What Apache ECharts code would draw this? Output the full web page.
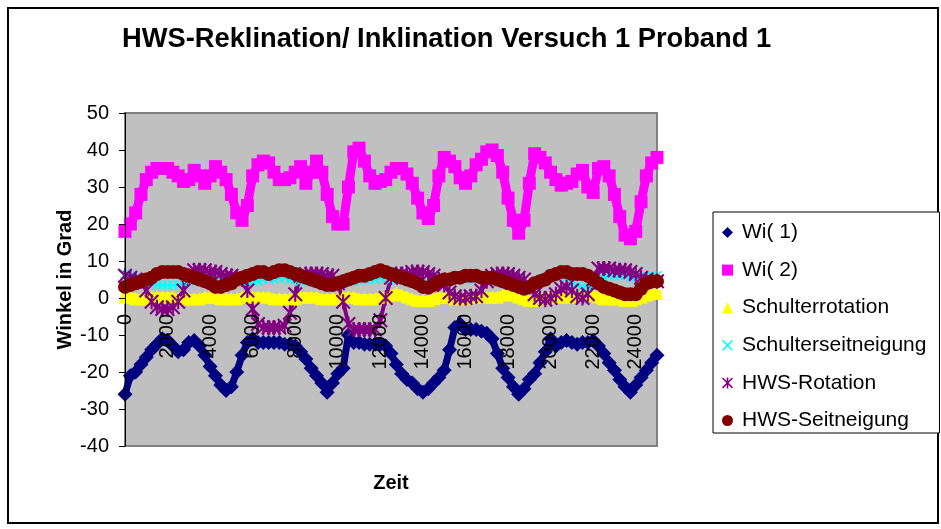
<!DOCTYPE html>
<html>
<head>
<meta charset="utf-8">
<script src="https://cdn.jsdelivr.net/npm/echarts@6/dist/echarts.min.js"></script>
<style>
html,body{margin:0;padding:0;background:#fff;}
#chart{width:941px;height:529px;}
</style>
</head>
<body>
<div id="chart"></div>
<script>
// Time axis (Zeit)
var zeit = [
  0, 250, 500, 750, 1000, 1250, 1500, 1750, 2000, 2250,
  2500, 2750, 3000, 3250, 3500, 3750, 4000, 4250, 4500, 4750,
  5000, 5250, 5500, 5750, 6000, 6250, 6500, 6750, 7000, 7250,
  7500, 7750, 8000, 8250, 8500, 8750, 9000, 9250, 9500, 9750,
  10000, 10250, 10500, 10750, 11000, 11250, 11500, 11750, 12000, 12250,
  12500, 12750, 13000, 13250, 13500, 13750, 14000, 14250, 14500, 14750,
  15000, 15250, 15500, 15750, 16000, 16250, 16500, 16750, 17000, 17250,
  17500, 17750, 18000, 18250, 18500, 18750, 19000, 19250, 19500, 19750,
  20000, 20250, 20500, 20750, 21000, 21250, 21500, 21750, 22000, 22250,
  22500, 22750, 23000, 23250, 23500, 23750, 24000, 24250, 24500, 24750,
  25000
];

var wi1 = [
  -26, -21, -20, -18, -16, -14, -12.5, -11, -11.5, -13,
  -14.5, -14, -12, -11.5, -13, -15.5, -18.5, -21, -23.5, -25,
  -24, -20, -15.5, -12, -11, -12, -12, -12, -12, -12,
  -12.5, -12.5, -13, -14.5, -16.5, -19, -21, -23, -25.5, -23,
  -20.5, -19, -10, -12, -12, -12.5, -12.5, -12.5, -12.5, -13,
  -15, -18, -20.5, -22, -23, -24.5, -25.5, -24.5, -23, -21.5,
  -19.5, -14, -8, -7, -8.5, -8.5, -8.5, -9, -9.5, -11,
  -15, -19, -21.5, -24, -26, -24.5, -22, -20.5, -17.5, -14.5,
  -11, -13, -12, -11.5, -12, -12.5, -12, -12, -11.5, -13,
  -15, -17.5, -19.5, -22, -24, -25.5, -23.5, -21.5, -19.5, -17.5,
  -15.5
];

var wi2 = [
  18, 20, 23, 28, 32, 34, 35, 35, 35, 34,
  33, 31.5, 32, 34.5, 33, 31, 33, 35.5, 34, 32,
  28, 23, 21, 25, 33, 36, 37, 36.5, 34, 32,
  32, 32.5, 34, 35.5, 31, 34, 37, 34, 28, 22,
  20, 20, 30, 39.5, 40.5, 37, 33, 31, 31.5, 32,
  34, 35, 35, 33.5, 31, 27, 23, 21.5, 25, 33,
  38, 37, 35.5, 32.5, 31, 33, 36, 37.5, 39.5, 40,
  38.5, 34, 27, 21, 17.5, 21, 31, 39, 38, 36.5,
  34, 32, 30.5, 31, 31.5, 33.5, 34.5, 30, 28.5, 35,
  35.5, 33, 28, 22, 17, 16, 18, 26, 33, 36.5,
  38
];

var schulterrotation = [
  0.3, 0.3, -0.2, -0.2, -0.2, 0.3, 0.3, 0.3, 0.3, 0.3,
  -0.2, -0.2, -0.2, -0.2, -0.2, 0.3, 0.3, 0.3, -0.2, -0.2,
  -0.2, -0.2, 0.3, 0.3, 0.3, 0.3, 0.3, 0.3, -0.2, -0.2,
  -0.2, -0.2, -0.2, 0.3, 0.3, 0.3, 0.3, -0.2, -0.2, -0.2,
  -0.2, 0.3, 0.3, 0.3, -0.2, -0.2, -0.2, -0.2, 0.3, 0.3,
  0.8, 1.3, 0.8, 0.3, -0.2, -0.7, -0.7, -0.7, -0.2, 0.3,
  0.3, 0.3, -0.2, -0.2, -0.2, 0.3, 0.3, 0.3, 0.3, 0.3,
  0.3, 0.8, 1.3, 0.8, 0.3, -0.2, -0.7, -0.7, -0.2, 0.3,
  0.3, 0.3, 0.3, 0.3, 0.3, 0.8, 1.3, 1.3, 0.8, 0.3,
  -0.2, -0.2, -0.2, -0.2, -0.7, -0.7, -0.2, 0.3, 0.8, 1.3,
  1.3
];

var schulterseitneigung = [
  6.5, 6, 5.5, 5, 4.5, 4, 3.5, 3.5, 3.5, 3.5,
  3.5, 4, 4.5, 5, 5, 5, 5, 4.5, 4.5, 4.5,
  4.5, 4.5, 4.5, 4.5, 4.5, 4.5, 5, 5, 5, 5.5,
  5.5, 5, 5, 4.5, 4.5, 4.5, 4, 4, 4, 4,
  4, 4, 4.5, 4.5, 4.5, 5, 5, 5, 5.5, 5.5,
  5, 5, 5, 4.5, 4.5, 4.5, 4, 4, 4, 4.5,
  5, 5, 5, 5, 5, 5, 5, 5, 5, 5,
  5, 4.5, 4.5, 4, 3.5, 3.5, 3.5, 4, 4.5, 5.5,
  6.5, 6.5, 6, 5.5, 4, 3.5, 3, 3, 3.5, 4.5,
  5.5, 6, 6, 6, 6, 5.5, 5.5, 5.5, 6, 6,
  6
];

var hwsRotation = [
  6, 5.5, 5, 4.5, 2, -1, -2.5, -3, -3, -2.5,
  -1, 2, 6, 7.5, 7.5, 7.5, 7, 7, 6.5, 6,
  6, 5.5, 5, 2, -3, -7, -8, -8, -8, -8,
  -7.5, -4, 1, 6, 6.5, 6.5, 6.5, 6.5, 6, 6,
  4, -1, -7, -8.5, -8.5, -8.5, -8.5, -8.5, -6, 0,
  5.5, 6.5, 6.5, 6.5, 7, 7, 7, 6.5, 6, 5,
  3.5, 1.5, 0.5, 0, 0, 0.5, 0.5, 2, 4.5, 6,
  6.5, 6.5, 6.5, 6, 5.5, 5, 3, 1, 0, -0.5,
  0, 1, 2.5, 3, 2, 0.5, 0, 1, 5, 8,
  8, 8, 7.5, 7.5, 7.5, 7, 6.5, 5.5, 5, 4.5,
  4.5
];

var hwsSeitneigung = [
  3, 3.5, 4, 4.5, 5, 5.5, 6.5, 7, 7, 7,
  7, 6.5, 6, 5.5, 5, 4.5, 4, 3, 3, 3.5,
  4, 5, 5.5, 6, 6.5, 7, 7, 6.5, 7, 7.5,
  7.5, 7, 6.5, 6, 5.5, 5, 4.5, 4, 3.5, 3.5,
  4, 4.5, 5, 5.5, 6, 6, 6.5, 7, 7.5, 7,
  6.5, 6, 5.5, 5, 4.5, 4, 3, 2.8, 3.5, 4.5,
  5, 5, 5.5, 5.5, 6, 6, 6, 5.5, 5.5, 5.5,
  5, 4.5, 4, 3.5, 3, 2.5, 3, 4, 4.5, 5,
  6, 6.5, 7, 7, 6.5, 6.5, 6.5, 6, 5, 4,
  3, 2.5, 2, 1.5, 1, 1, 1, 2.5, 4, 4.5,
  4.5
];

var seriesNames = ['Wi( 1)', 'Wi( 2)', 'Schulterrotation', 'Schulterseitneigung', 'HWS-Rotation', 'HWS-Seitneigung'];
var seriesValues = [wi1, wi2, schulterrotation, schulterseitneigung, hwsRotation, hwsSeitneigung];
var yTicks = [-40, 50, 10];
var xTicks = [0, 25000, 2000];

var FONT = '"Liberation Sans", Arial, sans-serif';
var crossPath = 'path://M0,1 L1,0 L10,9 L9,10 Z M9,0 L10,1 L1,10 L0,9 Z';
var starPath = 'path://M4.3,0 L5.7,0 L5.7,10 L4.3,10 Z M0,1 L1,0 L10,9 L9,10 Z M9,0 L10,1 L1,10 L0,9 Z';
var styles = [
  {color: '#000080', symbol: 'diamond', size: 15, line: 7},
  {color: '#FF00FF', symbol: 'rect', size: 13, line: 9},
  {color: '#FFFF00', symbol: 'triangle', size: 13, line: 9},
  {color: '#00FFFF', symbol: crossPath, size: 10, line: 2},
  {color: '#800080', symbol: starPath, size: 15, line: 4},
  {color: '#800000', symbol: 'circle', size: 14, line: 10}
];

function pairs(vals) {
  var out = [];
  for (var i = 0; i < zeit.length; i++) out.push([zeit[i], vals[i]]);
  return out;
}

var series = seriesNames.map(function (name, k) {
  var s = styles[k];
  return {
    name: name,
    type: 'line',
    data: pairs(seriesValues[k]),
    symbol: s.symbol,
    symbolSize: s.size,
    showAllSymbol: true,
    itemStyle: {color: s.color},
    lineStyle: {color: s.color, width: s.line, join: 'round', cap: 'round'},
    emphasis: {disabled: true},
    animation: false
  };
});

var legendIcons = ['diamond', 'rect', 'triangle', crossPath, starPath, 'circle'];

var chart = echarts.init(document.getElementById('chart'), null, {renderer: 'canvas'});
chart.setOption({
  animation: false,
  backgroundColor: '#ffffff',
  textStyle: {fontFamily: FONT},
  title: {
    text: 'HWS-Reklination/ Inklination Versuch 1 Proband 1',
    left: 122,
    top: 26,
    padding: 0,
    textStyle: {fontFamily: FONT, fontSize: 27.3, fontWeight: 'bold', color: '#000'}
  },
  grid: {
    left: 125, top: 113, width: 532, height: 333,
    show: true, backgroundColor: '#C0C0C0', borderColor: '#808080', borderWidth: 2,
    containLabel: false,
    outerBoundsMode: 'none'
  },
  legend: {
    orient: 'vertical',
    left: 713,
    top: 212,
    padding: [10, 13, 2, 9],
    itemGap: 16.6,
    itemWidth: 11,
    itemHeight: 11,
    borderColor: '#000',
    borderWidth: 1,
    backgroundColor: '#fff',
    selectedMode: false,
    textStyle: {fontFamily: FONT, fontSize: 21, color: '#000', lineHeight: 21, padding: [0, 0, 0, 4]},
    data: seriesNames.map(function (n, k) {
      return {name: n, icon: legendIcons[k], itemStyle: {color: styles[k].color}};
    })
  },
  xAxis: {
    type: 'value',
    position: 'bottom',
    offset: -148,
    z: 10,
    min: xTicks[0], max: xTicks[1], interval: xTicks[2],
    name: 'Zeit',
    nameLocation: 'middle',
    nameGap: 175,
    nameMoveOverlap: false,
    nameTextStyle: {fontFamily: FONT, fontSize: 20, fontWeight: 'bold', color: '#000'},
    axisLine: {show: false, onZero: false},
    axisTick: {show: false},
    splitLine: {show: false},
    axisLabel: {
      rotate: 90, margin: 16, fontFamily: FONT, fontSize: 20, color: '#000',
      formatter: function (v) { return v % 2000 === 0 ? String(v) : ''; }
    }
  },
  yAxis: {
    type: 'value',
    z: 10,
    min: yTicks[0], max: yTicks[1], interval: yTicks[2],
    name: 'Winkel in Grad',
    nameLocation: 'middle',
    nameGap: 50,
    nameMoveOverlap: false,
    nameTextStyle: {fontFamily: FONT, fontSize: 20, fontWeight: 'bold', color: '#000'},
    axisLine: {show: true, onZero: false, lineStyle: {color: '#000', width: 1}},
    axisTick: {show: true, inside: false, length: 6, lineStyle: {color: '#000'}},
    splitLine: {show: false},
    axisLabel: {margin: 16, fontFamily: FONT, fontSize: 20, color: '#000'}
  },
  graphic: [{
    type: 'rect',
    shape: {x: 8, y: 8, width: 930, height: 515},
    style: {fill: 'none', stroke: '#000', lineWidth: 2},
    silent: true,
    z: -10
  }],
  series: series
});
</script>
</body>
</html>
